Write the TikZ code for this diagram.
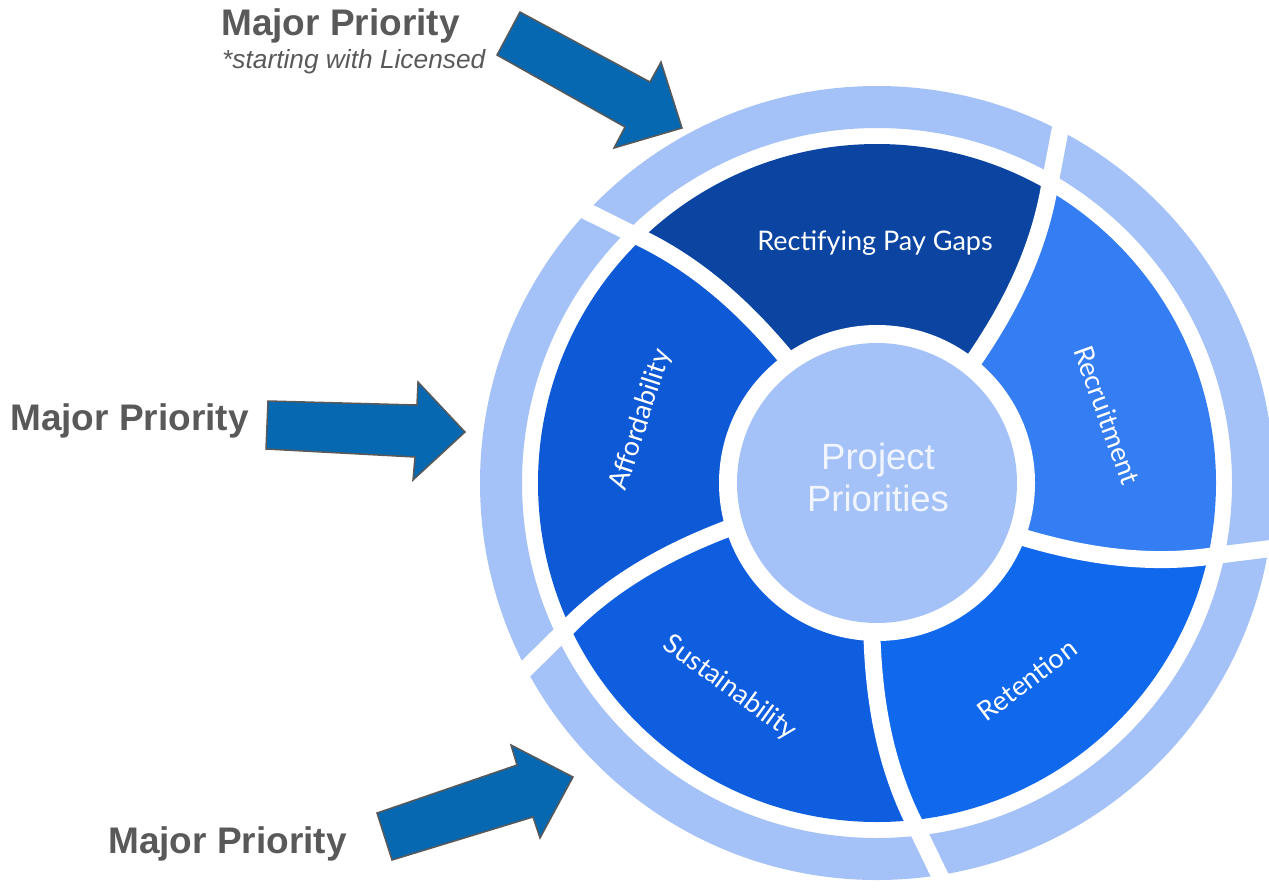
\documentclass[tikz,border=0pt]{standalone}
\usepackage{fontspec}
\setmainfont{Liberation Sans}
\newfontfamily\segfont{Lato}

\definecolor{ringlight}{HTML}{A4C2F7}
\definecolor{segA}{HTML}{0B45A1}   % Rectifying Pay Gaps
\definecolor{segB}{HTML}{347DF3}   % Recruitment
\definecolor{segC}{HTML}{1068EC}   % Retention
\definecolor{segD}{HTML}{0E5EDF}   % Sustainability
\definecolor{segE}{HTML}{0E59D5}   % Affordability
\definecolor{arrowblue}{HTML}{0668B1}
\definecolor{inkgray}{HTML}{595959}
\definecolor{hubtext}{HTML}{F1F5FE}

\tikzset{
  % angle of a swirl boundary (base angle \b) at radius \r
  declare function={swirl(\b,\r)=\b+0.025*(\r-157)+((\r-157)/100)^2;},
  outward/.style={smooth,variable=\rad,domain=150:348,samples=16},
  inward/.style={smooth,variable=\rad,domain=348:150,samples=16},
  blockarrow/.style={fill=arrowblue, draw=inkgray, line width=1.5pt, line join=miter},
  prio/.style={inner sep=0pt, anchor=base west, text=inkgray, font=\fontsize{37}{44}\selectfont\bfseries},
  seglabel/.style={inner sep=0pt, text=white, font=\segfont\fontsize{27}{31}\selectfont},
}

% one coloured wheel segment between the swirl boundaries at base angles #2 and #3
\newcommand\wheelpart[3]{\fill[#1] (0,0) -- plot[outward] ({swirl(#2,\rad)}:\rad) -- ({#2+8.42}:360) arc[start angle={#2+8.42}, end angle={#3+8.42}, radius=360] -- plot[inward] ({swirl(#3,\rad)}:\rad) -- cycle;}

\begin{document}
\begin{tikzpicture}[x=1pt,y=1pt]
\useasboundingbox (0,0) rectangle (1269,-887);
\clip (0,0) rectangle (1269,-887);

% ---- wheel ----
\begin{scope}[shift={(877,-483)}]
  % outer light ring
  \fill[ringlight, even odd rule] (0,0) circle[radius=397] (0,0) circle[radius=355];
  % coloured segments
  \begin{scope}
    \clip (0,0) circle[radius=339];
    \wheelpart{segB}{-20.4}{51.7}
    \wheelpart{segA}{51.7}{126}
    \wheelpart{segE}{126}{197}
    \wheelpart{segD}{197}{268.2}
    \wheelpart{segC}{268.2}{339.6}
  \end{scope}
  \fill[white] (0,0) circle[radius=158];
  % white separators
  \foreach \bb in {51.7,126,197,268.2,339.6}
    \draw[white, line width=17] plot[outward] ({swirl(\bb,\rad)}:\rad) -- ({\bb+11.2}:405);
  % hub
  \node[circle, fill=ringlight, minimum size=280pt, inner sep=0pt] (hub) at (0,0) {};
  \node[text=hubtext, align=center, inner sep=0pt, font=\fontsize{36.5}{42}\selectfont] (hubtxt) at (1,6) {Project\\Priorities};
  % segment labels
  \node[seglabel] (lrect) at (-2,240) {Rectifying Pay Gaps};
  \node[seglabel, rotate=-70] (lrecr) at (230,68) {Recruitment};
  \node[seglabel, rotate=72] (laff) at (-236,63) {Affordability};
  \node[seglabel, rotate=-36] (lsus) at (-147,-205) {Sustainability};
  \node[seglabel, rotate=37] (lret) at (150,-197) {Retention};
\end{scope}

% ---- priority arrows ----
\draw[blockarrow] (520,-12) -- (650,-82) -- (661,-62) -- (682,-128) -- (614,-148) -- (625,-127) -- (497,-55) -- cycle;
\draw[blockarrow] (268,-401) -- (417,-405) -- (418,-382) -- (465,-432) -- (413,-480) -- (415,-457) -- (266,-449) -- cycle;
\draw[blockarrow] (377,-813) -- (517,-765) -- (511,-745) -- (573,-777) -- (540,-838) -- (533,-817) -- (392,-860) -- cycle;

% ---- priority labels ----
\node[prio] (ptop) at (221,-35) {Major Priority};
\node[inner sep=0pt, anchor=base west, text=inkgray, font=\fontsize{26.3}{30}\selectfont\itshape] (pnote) at (222,-68) {*starting with Licensed};
\node[prio] (pleft) at (10,-430) {Major Priority};
\node[prio] (pbot) at (108,-853) {Major Priority};
\end{tikzpicture}
\end{document}
